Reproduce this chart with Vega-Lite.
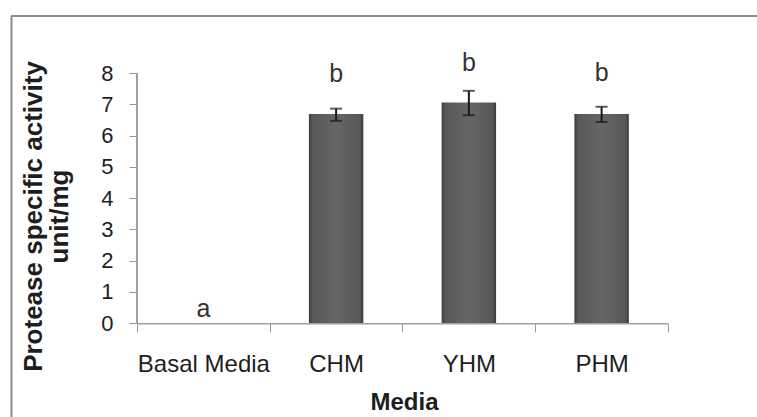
{
  "$schema": "https://vega.github.io/schema/vega-lite/v6.json",
  "autosize": {"type": "none"},
  "width": 746,
  "height": 401,
  "padding": {"left": 11, "top": 16, "right": 0, "bottom": 0},
  "background": "white",
  "config": {
    "view": {"stroke": null},
    "font": "Liberation Sans"
  },
  "data": {
    "values": [
      {"media": "Basal Media", "mean": 0, "lower": null, "upper": null, "letter": "a", "letterY": 0.2},
      {"media": "CHM", "mean": 6.69, "lower": 6.47, "upper": 6.86, "letter": "b", "letterY": 7.71},
      {"media": "YHM", "mean": 7.06, "lower": 6.65, "upper": 7.43, "letter": "b", "letterY": 8.05},
      {"media": "PHM", "mean": 6.69, "lower": 6.43, "upper": 6.92, "letter": "b", "letterY": 7.75}
    ]
  },
  "resolve": {"axis": {"y": "independent"}},
  "layer": [
    {
      "mark": {"type": "rule", "color": "#8c8c8c", "strokeWidth": 2},
      "encoding": {
        "y": {
          "datum": 9.824,
          "type": "quantitative",
          "scale": {"domain": [-3.008, 9.824], "nice": false, "zero": false},
          "axis": {
            "orient": "left",
            "offset": 0,
            "domain": true,
            "domainColor": "#8c8c8c",
            "domainWidth": 2,
            "ticks": false,
            "labels": false,
            "grid": false,
            "title": null
          }
        }
      }
    },
    {
      "mark": {"type": "bar", "color": "#a0a0a0"},
      "encoding": {
        "x": {
          "field": "media",
          "type": "nominal",
          "sort": ["Basal Media", "CHM", "YHM", "PHM"],
          "scale": {"paddingInner": 0, "paddingOuter": 0.8098, "align": 0.586},
          "axis": {
            "orient": "bottom",
            "offset": -94,
            "domain": false,
            "tickBand": "extent",
            "ticks": true,
            "tickSize": 9,
            "tickColor": "#9a9a9a",
            "tickWidth": 1,
            "labelAngle": 0,
            "labelFont": "Liberation Sans",
            "labelFontSize": 24,
            "labelColor": "#1e1e1e",
            "labelBaseline": "alphabetic",
            "labelPadding": 39,
            "title": "Media",
            "titleFont": "Liberation Sans",
            "titleFontSize": 24,
            "titleFontWeight": "bold",
            "titleColor": "#1e1e1e",
            "titleBaseline": "alphabetic",
            "titleAlign": "center",
            "titleX": 393,
            "titleY": 86
          }
        },
        "width": {"band": 1},
        "y": {"datum": 0, "type": "quantitative", "axis": null},
        "y2": {"datum": -0.045}
      }
    },
    {
      "mark": {"type": "rule", "color": "#9a9a9a", "strokeWidth": 1},
      "encoding": {
        "x": {"datum": "Basal Media", "type": "nominal", "bandPosition": 0},
        "y": {"datum": 0, "type": "quantitative", "axis": null},
        "y2": {"datum": 8}
      }
    },
    {
      "mark": {
        "type": "bar",
        "width": {"band": 0.41},
        "fill": {
          "gradient": "linear",
          "x1": 0, "x2": 1, "y1": 0, "y2": 0,
          "stops": [
            {"offset": 0, "color": "#3c3c3c"},
            {"offset": 0.07, "color": "#58585b"},
            {"offset": 0.5, "color": "#666669"},
            {"offset": 0.93, "color": "#58585b"},
            {"offset": 1, "color": "#3c3c3c"}
          ]
        }
      },
      "encoding": {
        "x": {"field": "media", "type": "nominal", "sort": ["Basal Media", "CHM", "YHM", "PHM"]},
        "y": {
          "field": "mean",
          "type": "quantitative",
          "axis": {
            "orient": "left",
            "offset": -126,
            "values": [0, 1, 2, 3, 4, 5, 6, 7, 8],
            "domain": false,
            "grid": false,
            "tickSize": 8,
            "tickColor": "#9a9a9a",
            "labelFont": "Liberation Sans",
            "labelFontSize": 22,
            "labelColor": "#1e1e1e",
            "labelPadding": 16,
            "title": ["Protease specific activity", "unit/mg"],
            "titleFont": "Liberation Sans",
            "titleFontSize": 26,
            "titleFontWeight": "bold",
            "titleColor": "#1e1e1e",
            "titleLineHeight": 26,
            "titleAngle": 270,
            "titleAlign": "center",
            "titleBaseline": "middle",
            "titleX": -104,
            "titleY": 200
          }
        },
        "y2": {"datum": 0}
      }
    },
    {
      "mark": {"type": "rule", "color": "#1a1a1a", "strokeWidth": 2},
      "encoding": {
        "x": {"field": "media", "type": "nominal", "sort": ["Basal Media", "CHM", "YHM", "PHM"]},
        "y": {"field": "lower", "type": "quantitative", "axis": null},
        "y2": {"field": "upper"}
      }
    },
    {
      "mark": {"type": "tick", "color": "#1a1a1a", "thickness": 2, "size": 12, "orient": "horizontal"},
      "encoding": {
        "x": {"field": "media", "type": "nominal", "sort": ["Basal Media", "CHM", "YHM", "PHM"]},
        "y": {"field": "upper", "type": "quantitative", "axis": null}
      }
    },
    {
      "mark": {"type": "tick", "color": "#1a1a1a", "thickness": 2, "size": 12, "orient": "horizontal"},
      "encoding": {
        "x": {"field": "media", "type": "nominal", "sort": ["Basal Media", "CHM", "YHM", "PHM"]},
        "y": {"field": "lower", "type": "quantitative", "axis": null}
      }
    },
    {
      "mark": {"type": "text", "font": "Liberation Sans", "fontSize": 25, "color": "#333333", "baseline": "alphabetic", "align": "center"},
      "encoding": {
        "x": {"field": "media", "type": "nominal", "sort": ["Basal Media", "CHM", "YHM", "PHM"]},
        "y": {"field": "letterY", "type": "quantitative", "axis": null},
        "text": {"field": "letter"}
      }
    }
  ]
}
